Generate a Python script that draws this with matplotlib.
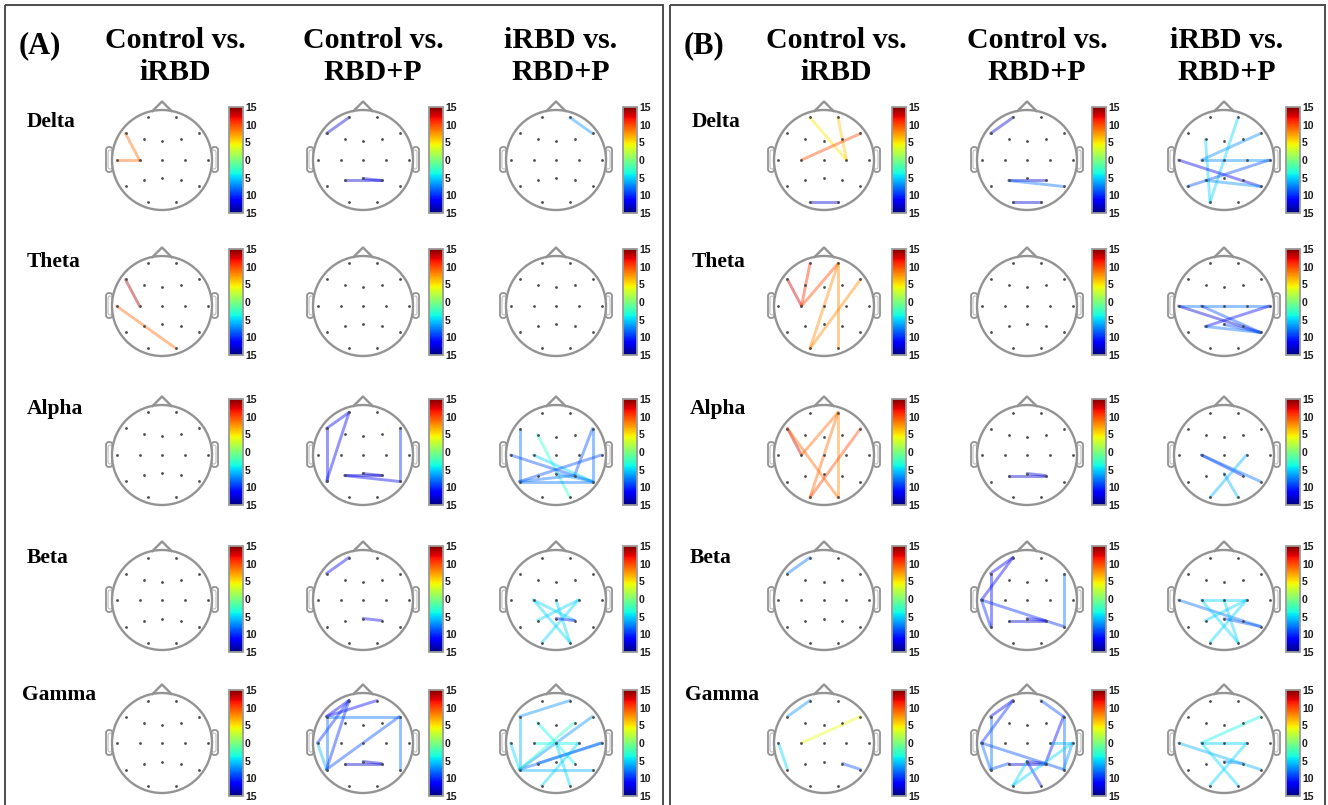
import matplotlib
matplotlib.use("Agg")
import matplotlib.pyplot as plt
from matplotlib.patches import Circle, FancyBboxPatch, Rectangle
from matplotlib.colors import Normalize
from matplotlib.cm import ScalarMappable

# ---------------- data ----------------
panels = ["(A)", "(B)"]
bands = ["Delta", "Theta", "Alpha", "Beta", "Gamma"]
comparisons = [("Control vs.", "iRBD"), ("Control vs.", "RBD+P"), ("iRBD vs.", "RBD+P")]
cbar_ticks = [-15, -10, -5, 0, 5, 10, 15]
cbar_labels = ["15", "10", "5", "0", "5", "10", "15"]

# connections: (channel 1, channel 2, statistic) for each comparison column
A_delta = [[("F7", "C3", 9), ("T3", "C3", 9)],
           [("Fp1", "F7", -13), ("P3", "P4", -13), ("Pz", "P4", -12)],
           [("Fp2", "F8", -7)]]
A_theta = [[("F7", "C3", 14), ("T3", "O2", 9)],
           [],
           []]
A_alpha = [[],
           [("Fp1", "F7", -12), ("Fp1", "T5", -12), ("F7", "T5", -11), ("P3", "P4", -13),
            ("Pz", "P4", -13), ("P3", "T6", -12), ("F8", "T6", -10)],
           [("F7", "T5", -8), ("F8", "T6", -8), ("F8", "P4", -9), ("F3", "O2", -3),
            ("T3", "T6", -9), ("C3", "T6", -5), ("T5", "T4", -9), ("T5", "P4", -8),
            ("T5", "T6", -8), ("Pz", "T6", -7)]]
A_beta = [[],
          [("Fp1", "F7", -12), ("Pz", "P4", -12)],
          [("C3", "P4", -5), ("C3", "O2", -5), ("C4", "P3", -5), ("C4", "O1", -5),
           ("Cz", "O2", -5), ("Pz", "P4", -11)]]
A_gamma = [[],
           [("Fp1", "F7", -12), ("Fp1", "T3", -10), ("Fp2", "F7", -11), ("F7", "F8", -8),
            ("F7", "T5", -8), ("Fp1", "T5", -10), ("T3", "T5", -6), ("T5", "F8", -9),
            ("F8", "T6", -8), ("P3", "P4", -13), ("Pz", "P4", -13)],
           [("Fp2", "F7", -7), ("F7", "T5", -6), ("T3", "T5", -5), ("T5", "F8", -7),
            ("T5", "T4", -8), ("T5", "F4", -3), ("T5", "T6", -6), ("C3", "C4", -4),
            ("F3", "P4", -4), ("C4", "O1", -5), ("Cz", "O2", -5), ("P3", "T4", -8)]]

B_delta = [[("Fp1", "C4", 5), ("Fp2", "C4", 6), ("C3", "F8", 10), ("O1", "O2", -13)],
           [("Fp1", "F7", -13), ("P3", "P4", -13), ("P3", "T6", -8), ("O1", "O2", -13)],
           [("Fp2", "O1", -5), ("F3", "O1", -5), ("C3", "F8", -7), ("C3", "T4", -7),
            ("T3", "T6", -12), ("T5", "T4", -9), ("P3", "T6", -7)]]
B_theta = [[("F7", "C3", 13), ("Fp1", "C3", 11), ("Fp2", "C3", 10), ("Fp2", "O1", 8),
            ("Fp2", "O2", 8), ("F8", "O1", 8)],
           [],
           [("T3", "T4", -8), ("T3", "T6", -13), ("C3", "T6", -9), ("P3", "T4", -11),
            ("P3", "T6", -8), ("Pz", "T6", -9)]]
B_alpha = [[("F7", "C3", 13), ("F7", "O2", 9), ("C3", "Fp2", 9), ("Fp2", "O1", 9),
            ("Fp2", "O2", 8), ("F8", "O1", 10)],
           [("P3", "P4", -13), ("Pz", "P4", -13)],
           [("C3", "P4", -10), ("C3", "T6", -8), ("C4", "O1", -6), ("Pz", "O2", -6)]]
B_beta = [[("Fp1", "F7", -8)],
          [("Fp1", "F7", -12), ("Fp1", "T3", -12), ("F7", "T5", -11), ("T3", "T5", -10),
           ("T3", "T6", -10), ("F8", "T6", -8), ("P3", "P4", -13), ("Pz", "P4", -12)],
          [("T3", "T6", -8), ("C3", "C4", -5), ("C3", "O2", -5), ("C4", "O1", -5),
           ("C4", "P3", -5), ("Cz", "O2", -5), ("Pz", "T6", -9)]]
B_gamma = [[("Fp1", "F7", -7), ("T3", "T5", -5), ("C3", "F8", 4), ("P4", "T6", -9)],
           [("Fp1", "F7", -12), ("Fp1", "T3", -10), ("F7", "T5", -8), ("T3", "T5", -8),
            ("T3", "P4", -9), ("Fp2", "F8", -9), ("F8", "T6", -8), ("F8", "P4", -11),
            ("C4", "T4", -6), ("T4", "T6", -7), ("T5", "P3", -9), ("P3", "P4", -13),
            ("Pz", "P4", -13), ("P4", "T6", -9), ("Pz", "O1", -5), ("Pz", "O2", -10),
            ("T4", "O1", -5)],
           [("C3", "F8", -4), ("C3", "C4", -5), ("T3", "T6", -6), ("C3", "O2", -5),
            ("C4", "O1", -5), ("Pz", "P4", -7)]]

panel_data = [[A_delta, A_theta, A_alpha, A_beta, A_gamma],
              [B_delta, B_theta, B_alpha, B_beta, B_gamma]]

# 10-20 montage (head radius = 1)
montage = {
    "Fp1": (-0.28, 0.85), "Fp2": (0.28, 0.85),
    "F7": (-0.73, 0.53), "F3": (-0.37, 0.41), "Fz": (0.0, 0.37), "F4": (0.37, 0.41), "F8": (0.73, 0.53),
    "T3": (-0.91, 0.0), "C3": (-0.45, 0.0), "Cz": (0.0, 0.0), "C4": (0.45, 0.0), "T4": (0.91, 0.0),
    "T5": (-0.73, -0.53), "P3": (-0.37, -0.41), "Pz": (0.0, -0.37), "P4": (0.37, -0.41), "T6": (0.73, -0.53),
    "O1": (-0.28, -0.85), "O2": (0.28, -0.85),
}

# ---------------- layout (pixels) ----------------
W, H = 1328, 805
head_cx = [[162, 363, 556], [824, 1027, 1224]]
row_cy = [160, 306, 455, 600, 743]
cbar_x = [[229, 429, 623], [892, 1092, 1286]]
cbar_cy = [160, 302, 452, 599, 743]
header_cx = [[175, 373, 561], [836, 1037, 1227]]
panel_box = [(5, 5, 658), (670, 5, 655)]
panel_label_x = [19, 684]
row_label_x = [[27, 27, 27, 27, 22], [692, 692, 690, 690, 685]]
row_label_y = [122, 262, 409, 558, 695]

cmap = plt.get_cmap("jet")
norm = Normalize(-15, 15)
GRAY = "#939393"

fig = plt.figure(figsize=(W / 100, H / 100), dpi=100)
fig.patch.set_facecolor("white")

bg = fig.add_axes([0, 0, 1, 1])
bg.set_xlim(0, W)
bg.set_ylim(H, 0)
bg.axis("off")


def px_axes(x0, y0, w, h):
    return fig.add_axes([x0 / W, 1 - (y0 + h) / H, w / W, h / H])


for p in range(2):
    x0, y0, w = panel_box[p]
    bg.add_patch(Rectangle((x0, y0), w, H + 20, fill=False, ec="#4d4d4d", lw=1.4))
    bg.text(panel_label_x[p], 46, panels[p], fontsize=22, fontweight="bold",
            family="Liberation Serif", ha="left", va="center")
    for c in range(3):
        l1, l2 = comparisons[c]
        bg.text(header_cx[p][c], 40, l1, fontsize=21.5, fontweight="bold",
                family="Liberation Serif", ha="center", va="center")
        bg.text(header_cx[p][c], 73, l2, fontsize=21.5, fontweight="bold",
                family="Liberation Serif", ha="center", va="center")
    for r, band in enumerate(bands):
        bg.text(row_label_x[p][r], row_label_y[r], band, fontsize=15.5, fontweight="bold",
                family="Liberation Serif", ha="left", va="center")
        for c in range(3):
            cx, cy = head_cx[p][c], row_cy[r]
            S = 140
            ax = px_axes(cx - S / 2, cy - S / 2, S, S)
            ax.set_xlim(-1.4, 1.4)
            ax.set_ylim(-1.4, 1.4)
            ax.set_aspect("equal")
            ax.axis("off")
            # ears
            for sgn in (-1, 1):
                xe = -1.12 if sgn < 0 else 0.99
                ax.add_patch(FancyBboxPatch((xe, -0.24), 0.13, 0.5,
                                            boxstyle="round,pad=0,rounding_size=0.06",
                                            fc="white", ec=GRAY, lw=1.3, zorder=1))
                xi = -1.08 if sgn < 0 else 1.0
                ax.add_patch(FancyBboxPatch((xi, -0.18), 0.08, 0.38,
                                            boxstyle="round,pad=0,rounding_size=0.04",
                                            fc="none", ec="#b5b5b5", lw=0.7, zorder=1))
            ax.add_patch(Circle((0, 0), 1.0, fc="white", ec=GRAY, lw=1.7, zorder=2))
            ax.plot([-0.19, 0, 0.19], [0.98, 1.17, 0.98], color=GRAY, lw=1.7,
                    solid_joinstyle="round", zorder=2)
            # connections
            for a, b, v in panel_data[p][r][c]:
                (xa, ya), (xb, yb) = montage[a], montage[b]
                ax.plot([xa, xb], [ya, yb], color=cmap(norm(v)), lw=2.1, alpha=0.42,
                        solid_capstyle="round", zorder=3)
            xs = [montage[k][0] for k in montage]
            ys = [montage[k][1] for k in montage]
            ax.scatter(xs, ys, s=4, c="#4a4a4a", zorder=4, linewidths=0)
            # colorbar
            cax = px_axes(cbar_x[p][c], cbar_cy[r] - 53, 14, 106)
            cb = fig.colorbar(ScalarMappable(norm=norm, cmap=cmap), cax=cax, ticks=cbar_ticks)
            cb.ax.set_yticklabels(cbar_labels, fontsize=7.5, family="Liberation Sans",
                                  fontweight="bold", color="#1a1a1a")
            cb.ax.tick_params(length=0, pad=1.5)
            cb.outline.set_edgecolor("#9a9a9a")
            cb.outline.set_linewidth(1.3)

fig.savefig("out.png", dpi=100)
